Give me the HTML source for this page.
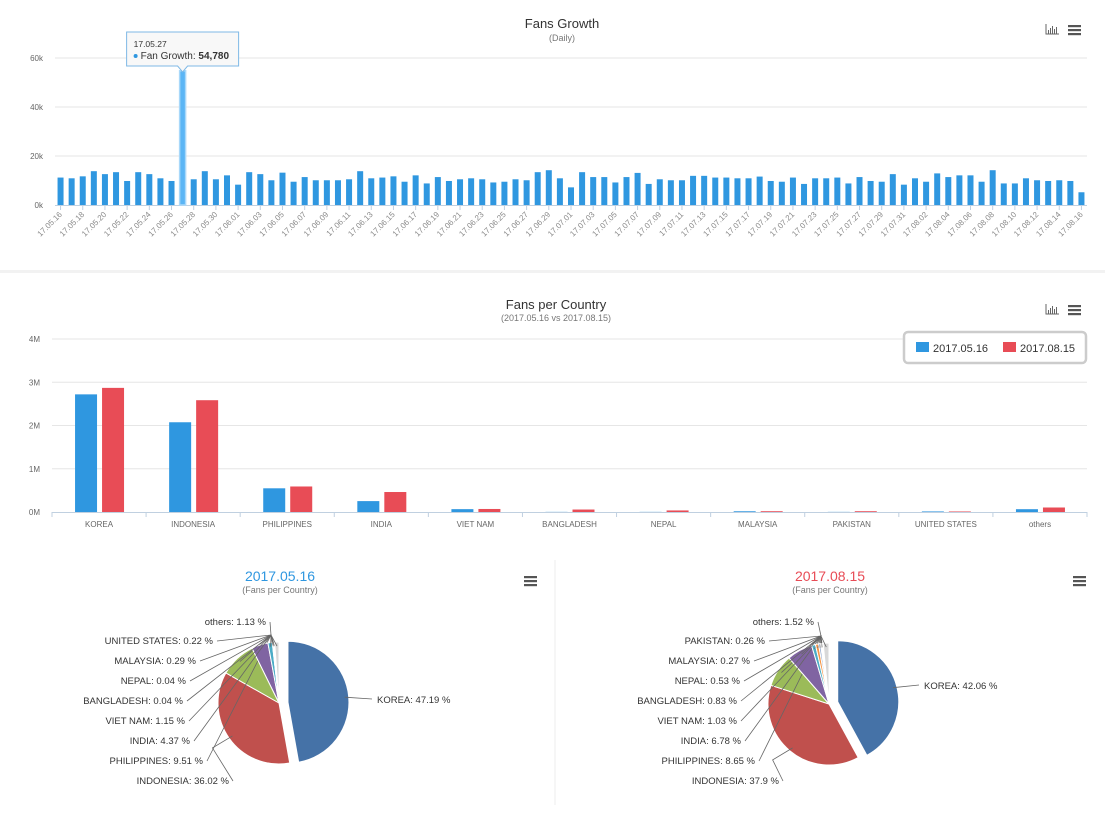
<!DOCTYPE html>
<html><head><meta charset="utf-8"><style>
body{margin:0;background:#fff;font-family:"Liberation Sans",sans-serif;}
svg text{font-family:"Liberation Sans",sans-serif;}
</style></head><body>
<svg id="s" width="1113" height="816" viewBox="0 0 1113 816" xmlns="http://www.w3.org/2000/svg">
<rect x="0" y="0" width="1113" height="816" fill="#fff"/>
<rect x="0" y="270" width="1105" height="3" fill="#f2f2f2"/>
<line x1="555" y1="560" x2="555" y2="805" stroke="#eee"/>
<g id="g1"></g>
<g id="g2"></g>
<g id="g3"></g>
</svg>
<script>
// ---- Fans growth data ----
const growthStart = [2017,5,16];
const growthValues = [11.2,10.9,11.7,13.8,12.6,13.4,9.8,13.4,12.6,10.9,9.8,54.78,10.5,13.8,10.5,12.1,8.3,13.4,12.6,10.1,13.2,9.5,11.4,10.1,10.1,10.1,10.5,13.8,10.9,11.2,11.7,9.5,12.1,8.8,11.4,9.8,10.5,10.9,10.5,9.2,9.5,10.5,10.1,13.4,14.2,
10.9,7.2,13.4,11.4,11.4,9.2,11.4,13.1,8.6,10.5,10.1,10.1,11.9,11.9,11.2,11.2,10.9,10.9,11.6,9.8,9.5,11.2,8.6,10.9,10.9,11.2,8.8,11.4,9.8,9.5,12.6,8.3,10.9,9.5,12.9,11.4,12.1,12.1,9.5,14.2,8.8,8.8,10.9,10.1,9.8,10.1,9.8,5.2];
const growthTicks = [0,20,40,60];
// ---- Country data (millions) ----
const countries = ["KOREA","INDONESIA","PHILIPPINES","INDIA","VIET NAM","BANGLADESH","NEPAL","MALAYSIA","PAKISTAN","UNITED STATES","others"];
const series1 = [2.72,2.075,0.548,0.252,0.066,0.003,0.003,0.017,0.003,0.013,0.065];
const series2 = [2.87,2.585,0.59,0.462,0.07,0.057,0.036,0.018,0.018,0.012,0.104];
const countryTicks = [0,1,2,3,4];
// ---- Pie data (percent) ----
const pieNames = ["KOREA","INDONESIA","PHILIPPINES","INDIA","VIET NAM","BANGLADESH","NEPAL","MALAYSIA","PAKISTAN","UNITED STATES","others"];
const pie1 = [47.19,36.02,9.51,4.37,1.15,0.04,0.04,0.29,0.04,0.22,1.13];
const pie2 = [42.06,37.9,8.65,6.78,1.03,0.83,0.53,0.27,0.26,0.17,1.52];

const NS="http://www.w3.org/2000/svg";
function mk(parent,tag,attrs,text){const e=document.createElementNS(NS,tag);for(const k in attrs)e.setAttribute(k,attrs[k]);if(text!==undefined)e.textContent=text;parent.appendChild(e);return e;}

function icons(g,x,y,bar,prefix){
  if(bar){
    const b=mk(g,'g',{});
    
    
    mk(b,'path',{d:`M${x} ${y-5}v10h13`,stroke:'#666',fill:'none','stroke-width':1});
    [[2,4],[4,6],[6,8],[8,5],[10,7]].forEach(a=>mk(b,'rect',{x:x+a[0],y:y+5-a[1],width:1,height:a[1],fill:'#666'}));
  }
  const m=mk(g,'g',{});
  
  
  [0,4,8].forEach(d=>mk(m,'rect',{x:x+(bar?22:0),y:y-4+d,width:13,height:2.2,fill:'#555'}));
}

// ===== Chart 1 =====
(function(){
  const g=document.getElementById('g1');
  const L=55,R=1087,y0=205,pxk=49/20;
  const yS=v=>y0-v*pxk;
  const n=growthValues.length,w=(R-L)/n;
  const t=mk(g,'text',{x:562,y:28,'text-anchor':'middle','font-size':13,fill:'#333'},'Fans Growth');
  
  const st=mk(g,'text',{x:562,y:41,'text-anchor':'middle','font-size':9,fill:'#777'},'(Daily)');
  
  icons(g,1046,29,true,'growth');
  growthTicks.forEach(v=>{
    if(v>0){const l=mk(g,'line',{x1:L,x2:R,y1:yS(v),y2:yS(v),stroke:'#e6e6e6'});}
    const tx=mk(g,'text',{x:43,y:yS(v)+3,'text-anchor':'end','font-size':8,fill:'#666'},v+'k');
    
  });
  mk(g,'line',{x1:L,x2:R,y1:y0+0.5,y2:y0+0.5,stroke:'#c0d0e0'});
  const d0=new Date(growthStart[0],growthStart[1]-1,growthStart[2]);
  growthValues.forEach((v,i)=>{
    const cx=L+w*(i+0.5);
    const hi=v>40;
    const r=mk(g,'rect',{x:cx-3,y:yS(v),width:6,height:y0-yS(v),fill:hi?'#5bb5f5':'#2f97e0',stroke:hi?'#a8d8fa':'none','stroke-width':hi?1.5:0});
    
    
    if(i%2===0){
      const d=new Date(d0.getTime()+i*86400000);
      const lab=String(d.getFullYear()).slice(2)+'.'+String(d.getMonth()+1).padStart(2,'0')+'.'+String(d.getDate()).padStart(2,'0');
      mk(g,'line',{x1:cx,x2:cx,y1:y0,y2:y0+5,stroke:'#c0d0e0'});
      const tl=mk(g,'text',{x:cx+2,y:y0+10,'text-anchor':'end','font-size':8,fill:'#888',transform:`rotate(-45 ${cx+2} ${y0+10})`},lab);
      
    }
  });
  // tooltip on max
  let mi=0;growthValues.forEach((v,i)=>{if(v>growthValues[mi])mi=i;});
  const cx=L+w*(mi+0.5);
  const d=new Date(d0.getTime()+mi*86400000);
  const lab=String(d.getFullYear()).slice(2)+'.'+String(d.getMonth()+1).padStart(2,'0')+'.'+String(d.getDate()).padStart(2,'0');
  const tg=mk(g,'g',{});
  
  mk(tg,'path',{d:`M${cx-56} 32h112v34h-${56-5}l-5 6l-5 -6h-${56-5}z`,fill:'#f8f8f8',stroke:'#7fb9e6','stroke-width':1});
  mk(tg,'text',{x:cx-49,y:47,'font-size':8.5,fill:'#333'},lab);
  mk(tg,'circle',{cx:cx-47,cy:56,r:2,fill:'#2f97e0'});
  const tt=mk(tg,'text',{x:cx-42,y:59,'font-size':10,fill:'#333'},'Fan Growth: ');
  mk(tt,'tspan',{'font-weight':'bold'},Math.round(growthValues[mi]*1000).toLocaleString('en-US'));
})();

// ===== Chart 2 =====
(function(){
  const g=document.getElementById('g2');
  const L=52,R=1087,y0=512,pxm=43.25;
  const yS=v=>y0-v*pxm;
  const n=countries.length,w=(R-L)/n;
  const t=mk(g,'text',{x:556,y:309,'text-anchor':'middle','font-size':13,fill:'#333'},'Fans per Country');
  
  const st=mk(g,'text',{x:556,y:321,'text-anchor':'middle','font-size':9,fill:'#777'},'(2017.05.16 vs 2017.08.15)');
  
  icons(g,1046,309,true,'country');
  countryTicks.forEach(v=>{
    if(v>0){const l=mk(g,'line',{x1:L,x2:R,y1:yS(v),y2:yS(v),stroke:'#e6e6e6'});}
    const tx=mk(g,'text',{x:40,y:yS(v)+3,'text-anchor':'end','font-size':8,fill:'#666'},v+'M');
    
  });
  mk(g,'line',{x1:L,x2:R,y1:y0+0.5,y2:y0+0.5,stroke:'#c0d0e0'});
  countries.forEach((c,i)=>{
    const cx=L+w*(i+0.5);
    mk(g,'line',{x1:L+w*i,x2:L+w*i,y1:y0,y2:y0+5,stroke:'#c0d0e0'});
    const a=mk(g,'rect',{x:cx-24,y:yS(series1[i]),width:22,height:series1[i]*pxm,fill:'#2f97e0'});
    
    const b=mk(g,'rect',{x:cx+3,y:yS(series2[i]),width:22,height:series2[i]*pxm,fill:'#e84c56'});
    
    const tl=mk(g,'text',{x:cx,y:527,'text-anchor':'middle','font-size':8,fill:'#666'},c);
    
  });
  mk(g,'line',{x1:R,x2:R,y1:y0,y2:y0+5,stroke:'#c0d0e0'});
  const lg=mk(g,'g',{});
  
  mk(lg,'rect',{x:904,y:332,width:182,height:31,rx:4,fill:'#fff',stroke:'#ccc','stroke-width':2.5});
  const e1=mk(lg,'g',{});
  mk(e1,'rect',{x:916,y:342,width:13,height:10,fill:'#2f97e0'});
  mk(e1,'text',{x:933,y:352,'font-size':11,fill:'#333'},'2017.05.16');
  const e2=mk(lg,'g',{});
  mk(e2,'rect',{x:1003,y:342,width:13,height:10,fill:'#e84c56'});
  mk(e2,'text',{x:1020,y:352,'font-size':11,fill:'#333'},'2017.08.15');
})();

// ===== Pies =====
const pieColors=['#4572A7','#C0504D','#9BBB59','#8064A2','#4BACC6','#F79646','#92A8CD','#A47D7C','#B5CA92','#a9c9ee','#d8d8d8'];
function drawPie(g,vals,cx,cy,title,tcol,textAnchorX,labelEnds,korea,prefix){
  const t=mk(g,'text',{x:cx+1,y:581,'text-anchor':'middle','font-size':14,fill:tcol},title);
  
  const st=mk(g,'text',{x:cx+1,y:593,'text-anchor':'middle','font-size':9,fill:'#777'},'(Fans per Country)');
  
  const r=61;const tot=vals.reduce((a,b)=>a+b,0);
  let a0=-Math.PI/2;
  let li=0;
  vals.forEach((v,i)=>{
    const da=v/tot*2*Math.PI,a1=a0+da,mid=(a0+a1)/2;
    const off=i===0?9:0;
    const ox=cx+off*Math.cos(mid),oy=cy+off*Math.sin(mid);
    const x0=ox+r*Math.cos(a0),y0=oy+r*Math.sin(a0),x1=ox+r*Math.cos(a1),y1=oy+r*Math.sin(a1);
    const p=mk(g,'path',{d:`M${ox} ${oy}L${x0} ${y0}A${r} ${r} 0 ${da>Math.PI?1:0} 1 ${x1} ${y1}Z`,fill:pieColors[i],stroke:'#fff','stroke-width':1});
    
    
    const ex=ox+(r-4)*Math.cos(mid),ey=oy+(r-4)*Math.sin(mid);
    const label=pieNames[i]+': '+v+' %';
    if(i===0){
      mk(g,'path',{d:`M${ex} ${ey}L${korea[0]-5} ${korea[1]-4}`,stroke:'#666',fill:'none','stroke-width':0.8});
      const tx=mk(g,'text',{x:korea[0],y:korea[1],'font-size':9.5,fill:'#333'},label);
      
    } else if(labelEnds[i]){
      const le=labelEnds[i];
      const ix=i===1?ex-20:cx-8, iy=i===1?ey+12:cy-68;
      mk(g,'path',{d:`M${le[0]+4} ${le[1]-3}L${ix} ${iy}L${ex} ${ey}`,stroke:'#666',fill:'none','stroke-width':0.8});
      const tx=mk(g,'text',{x:le[0],y:le[1],'text-anchor':'end','font-size':9.5,fill:'#333'},label);
      
    }
    a0=a1;
  });
}
(function(){
  const g=document.getElementById('g3');
  const le1={1:[229,784],2:[203,764],3:[190,744],4:[185,724],5:[183,704],6:[186,684],7:[196,664],9:[213,644],10:[266,625]};
  const le2={1:[779,784],2:[755,764],3:[741,744],4:[737,724],5:[737,704],6:[740,684],7:[750,664],8:[765,644],10:[814,625]};
  drawPie(g,pie1,279,703,'2017.05.16','#2f97e0',0,le1,[377,703],'may');
  drawPie(g,pie2,829,704,'2017.08.15','#e84c56',0,le2,[924,689],'aug');
  icons(g,524,580,false,'may-pie');
  icons(g,1073,580,false,'aug-pie');
})();
</script>
</body></html>
